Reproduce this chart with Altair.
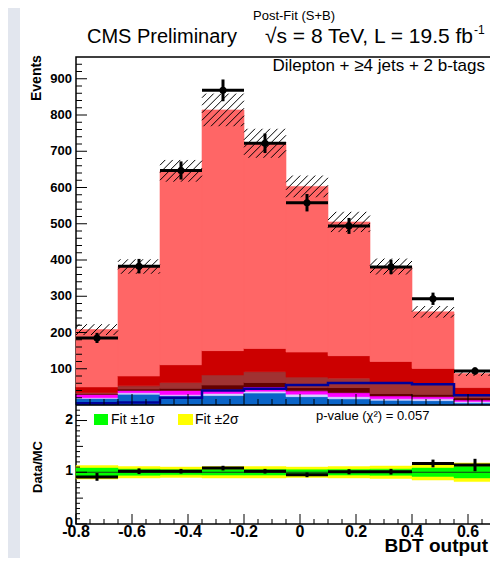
import altair as alt
import pandas as pd
import numpy as np

# ---------------- data ----------------
edges = [-0.8, -0.65, -0.5, -0.35, -0.2, -0.05, 0.1, 0.25, 0.4, 0.55, 0.7]
data_obs = [185, 383, 647, 868, 722, 558, 494, 381, 293, 94]
data_err = [14, 20, 25, 30, 27, 24, 22, 20, 17, 10]

comp_names = ["V+jets", "ttV", "single t", "tt+bb", "tt+b", "tt+cc", "tt+lf"]  # bottom -> top
comp_colors = ["#0a64c8", "#d2d2ff", "#ff00ff", "#640000", "#a03232", "#cc0000", "#ff6666"]
vjets = [18, 30, 25, 26, 33, 23, 17, 13, 12, 6]
ttv = [2, 4, 3, 6, 5, 7, 6, 4, 5, 4]
stop = [9, 6, 12, 11, 12, 9, 11, 8, 6, 4]
ttbb = [2, 4, 6, 12, 12, 9, 14, 7, 7, 6]
ttb = [3, 9, 16, 28, 30, 29, 26, 28, 30, 7]
ttcc = [16, 27, 49, 67, 64, 69, 62, 60, 41, 21]
ttlf = [158, 302, 535, 664, 566, 457, 369, 262, 156, 39]
components = [vjets, ttv, stop, ttbb, ttb, ttcc, ttlf]
mc_err = [15, 20, 30, 45, 40, 30, 28, 22, 16, 7]
tth = [5, 7, 20, 40, 45, 55, 61, 61, 57, 27]

ratio = [0.91, 1.02, 1.02, 1.08, 1.02, 0.95, 1.01, 1.01, 1.17, 1.14]
ratio_err = [0.075, 0.055, 0.045, 0.045, 0.045, 0.045, 0.05, 0.055, 0.075, 0.12]
band1 = [0.08, 0.06, 0.05, 0.055, 0.055, 0.05, 0.055, 0.06, 0.08, 0.11]
band2 = [0.13, 0.11, 0.10, 0.11, 0.11, 0.10, 0.11, 0.12, 0.15, 0.18]

x_ticks = [-0.8, -0.6, -0.4, -0.2, 0.0, 0.2, 0.4, 0.6]
x_labels = ["-0.8", "-0.6", "-0.4", "-0.2", "0", "0.2", "0.4", "0.6"]
y_ticks_main = [100, 200, 300, 400, 500, 600, 700, 800, 900]
y_ticks_ratio = [0, 1, 2]

# ---------------- geometry ----------------
W, H1, H2 = 420, 348, 119
H = H1 + H2
XMIN, XMAX = -0.8, 0.7
YMAX = 960
RMAX = 2.3
FONT = "Liberation Sans"

lo = edges[:-1]
hi = edges[1:]
ctr = [(a + b) / 2 for a, b in zip(lo, hi)]

xs = alt.Scale(domain=[XMIN, XMAX], nice=False, zero=False)
ys = alt.Scale(domain=[0, YMAX], nice=False, range=[H1, 0])
rs = alt.Scale(domain=[0, RMAX], nice=False, range=[H, H1])


def X(f):
    return alt.X(f, scale=xs, axis=None)


def MY(f):
    return alt.Y(f, scale=ys, axis=None)


def RY(f):
    return alt.Y(f, scale=rs, axis=None)


one = pd.DataFrame({"a": [0]})


def txt(s, x, y, size, align="left", weight="normal", angle=0, baseline="middle"):
    return alt.Chart(one).mark_text(text=s, font=FONT, fontSize=size, align=align,
                                    baseline=baseline, fontWeight=weight, angle=angle,
                                    color="black").encode(x=alt.value(x), y=alt.value(y))


# ---------------- main panel ----------------
rows = []
for i in range(10):
    base = 0
    for k, (name, vals) in enumerate(zip(comp_names, components)):
        rows.append(dict(lo=lo[i], hi=hi[i], y0=base, y1=base + vals[i], comp=name))
        base += vals[i]
stack_df = pd.DataFrame(rows)
mc_total = [sum(c[i] for c in components) for i in range(10)]

strip = alt.Chart(one).mark_rect(color="#e2e6ee").encode(
    x=alt.value(-68), x2=alt.value(-56), y=alt.value(-49), y2=alt.value(501))

bars = alt.Chart(stack_df).mark_rect(strokeWidth=0.6).encode(
    x=X("lo:Q"), x2="hi:Q", y=MY("y0:Q"), y2="y1:Q",
    color=alt.Color("comp:N", scale=alt.Scale(domain=comp_names, range=comp_colors), legend=None),
    stroke=alt.Stroke("comp:N", scale=alt.Scale(domain=comp_names, range=comp_colors), legend=None),
)

tth_df = pd.DataFrame({"x": lo + [edges[-1]], "y": tth + [tth[-1]]})
tth_line = alt.Chart(tth_df).mark_line(interpolate="step-after", color="#000099", strokeWidth=2.5).encode(
    x=X("x:Q"), y=MY("y:Q"))

# hatched uncertainty band
PX = W / (XMAX - XMIN)
PY = H1 / YMAX
sp = 7.5
hrows = []
for i in range(10):
    X0 = (lo[i] - XMIN) * PX
    X1 = (hi[i] - XMIN) * PX
    Ylo = (mc_total[i] - mc_err[i]) * PY
    Hh = 2 * mc_err[i] * PY
    k0 = int(np.floor((X0 - Hh) / sp))
    k1 = int(np.ceil(X1 / sp))
    for k in range(k0, k1 + 1):
        s = k * sp
        xa = max(X0, s)
        xb = min(X1, s + Hh)
        if xb - xa < 1.0:
            continue
        hrows.append(dict(x=xa / PX + XMIN, x2=xb / PX + XMIN,
                          y=(Ylo + (xa - s)) / PY, y2=(Ylo + (xb - s)) / PY))
hatch_df = pd.DataFrame(hrows)
hatch = alt.Chart(hatch_df).mark_rule(color="black", strokeWidth=1).encode(
    x=X("x:Q"), x2="x2:Q", y=MY("y:Q"), y2="y2:Q")

ddf = pd.DataFrame({"lo": lo, "hi": hi, "c": ctr, "v": data_obs,
                    "vl": [v - e for v, e in zip(data_obs, data_err)],
                    "vh": [v + e for v, e in zip(data_obs, data_err)]})
d_h = alt.Chart(ddf).mark_rule(color="black", strokeWidth=3).encode(
    x=X("lo:Q"), x2="hi:Q", y=MY("v:Q"))
d_v = alt.Chart(ddf).mark_rule(color="black", strokeWidth=3).encode(
    x=X("c:Q"), y=MY("vl:Q"), y2="vh:Q")
d_p = alt.Chart(ddf).mark_circle(color="black", size=50, opacity=1).encode(
    x=X("c:Q"), y=MY("v:Q"))

# tick marks (inside, ROOT style)
maj_y = pd.DataFrame({"v": y_ticks_main, "t": [str(v) for v in y_ticks_main]})
min_y = pd.DataFrame({"v": [v for v in range(20, 960, 20) if v % 100 != 0]})
maj_x = pd.DataFrame({"v": x_ticks, "t": x_labels})
min_x = pd.DataFrame({"v": [round(-0.8 + 0.05 * k, 2) for k in range(31)
                            if round(-0.8 + 0.05 * k, 2) not in x_ticks]})

t_my1 = alt.Chart(maj_y).mark_rule(color="black", strokeWidth=1).encode(
    x=alt.value(0), x2=alt.value(11), y=MY("v:Q"))
t_my2 = alt.Chart(min_y).mark_rule(color="black", strokeWidth=1).encode(
    x=alt.value(0), x2=alt.value(6), y=MY("v:Q"))
t_mx1 = alt.Chart(maj_x).mark_rule(color="black", strokeWidth=1).encode(
    x=X("v:Q"), y=alt.value(H1), y2=alt.value(H1 - 11))
t_mx2 = alt.Chart(min_x).mark_rule(color="black", strokeWidth=1).encode(
    x=X("v:Q"), y=alt.value(H1), y2=alt.value(H1 - 6))
lab_my = alt.Chart(maj_y).mark_text(font=FONT, fontSize=13, fontWeight="bold", align="right",
                                    baseline="middle", color="black").encode(
    x=alt.value(-4), y=MY("v:Q"), text="t:N")

texts_main = [
    txt("Post-Fit (S+B)", 218, -41, 13, align="center"),
    txt("CMS Preliminary", 11, -20, 20),
    txt("\u221as = 8 TeV, L = 19.5 fb", 397, -20, 21, align="right"),
    txt("-1", 398, -27, 12),
    txt("Dilepton + \u22654 jets + 2 b-tags", 409, 9, 17, align="right"),
    txt("Events", -39, 44, 14, align="left", weight="bold", angle=270),
]

# ---------------- ratio panel ----------------
rdf = pd.DataFrame({"lo": lo, "hi": hi, "c": ctr, "r": ratio,
                    "rl": [r - e for r, e in zip(ratio, ratio_err)],
                    "rh": [r + e for r, e in zip(ratio, ratio_err)],
                    "b1l": [1 - b for b in band1], "b1h": [1 + b for b in band1],
                    "b2l": [1 - b for b in band2], "b2h": [1 + b for b in band2]})

yel = alt.Chart(rdf).mark_rect(color="#ffff00", strokeWidth=0.5, stroke="#ffff00").encode(
    x=X("lo:Q"), x2="hi:Q", y=RY("b2l:Q"), y2="b2h:Q")
grn = alt.Chart(rdf).mark_rect(color="#00ff00", strokeWidth=0.5, stroke="#00ff00").encode(
    x=X("lo:Q"), x2="hi:Q", y=RY("b1l:Q"), y2="b1h:Q")
unity = alt.Chart(pd.DataFrame({"v": [1]})).mark_rule(color="#1a3a1a", strokeWidth=1).encode(
    y=RY("v:Q"), x=alt.value(0), x2=alt.value(W))
r_h = alt.Chart(rdf).mark_rule(color="black", strokeWidth=3).encode(
    x=X("lo:Q"), x2="hi:Q", y=RY("r:Q"))
r_v = alt.Chart(rdf).mark_rule(color="black", strokeWidth=3).encode(
    x=X("c:Q"), y=RY("rl:Q"), y2="rh:Q")

rmaj = pd.DataFrame({"v": y_ticks_ratio, "t": [str(v) for v in y_ticks_ratio]})
rmid = pd.DataFrame({"v": [0.5, 1.5]})
rmin = pd.DataFrame({"v": [round(0.1 * k, 1) for k in range(1, 23) if k % 5 != 0]})
t_ry1 = alt.Chart(rmaj).mark_rule(color="black", strokeWidth=1).encode(
    x=alt.value(0), x2=alt.value(11), y=RY("v:Q"))
t_ry2 = alt.Chart(rmid).mark_rule(color="black", strokeWidth=1).encode(
    x=alt.value(0), x2=alt.value(7), y=RY("v:Q"))
t_ry3 = alt.Chart(rmin).mark_rule(color="black", strokeWidth=1).encode(
    x=alt.value(0), x2=alt.value(4), y=RY("v:Q"))
t_rx1 = alt.Chart(maj_x).mark_rule(color="black", strokeWidth=1).encode(
    x=X("v:Q"), y=alt.value(H), y2=alt.value(H - 10))
t_rx2 = alt.Chart(min_x).mark_rule(color="black", strokeWidth=1).encode(
    x=X("v:Q"), y=alt.value(H), y2=alt.value(H - 5))
lab_ry = alt.Chart(rmaj).mark_text(font=FONT, fontSize=14, fontWeight="bold", align="right",
                                   baseline="middle", color="black", dy=-1).encode(
    x=alt.value(-3), y=RY("v:Q"), text="t:N")
lab_rx = alt.Chart(maj_x).mark_text(font=FONT, fontSize=16, fontWeight="bold", align="center",
                                    baseline="middle", color="black").encode(
    x=X("v:Q"), y=alt.value(H + 8), text="t:N")

# panel separator
sep = alt.Chart(one).mark_rule(color="black", strokeWidth=1.5).encode(
    x=alt.value(0), x2=alt.value(W), y=alt.value(H1))

leg_g = alt.Chart(one).mark_rect(color="#00ff00").encode(
    x=alt.value(18), x2=alt.value(32), y=alt.value(H1 + 9), y2=alt.value(H1 + 20))
leg_y = alt.Chart(one).mark_rect(color="#ffff00").encode(
    x=alt.value(102), x2=alt.value(117), y=alt.value(H1 + 9), y2=alt.value(H1 + 20))

texts_ratio = [
    txt("Fit \u00b11\u03c3", 35, H1 + 15, 14),
    txt("Fit \u00b12\u03c3", 119, H1 + 15, 14),
    txt("p-value (\u03c7\u00b2) = 0.057", 240, H1 + 11, 13),
    txt("Data/MC", -38, H1 + 62, 13, align="center", weight="bold", angle=270),
    txt("BDT output", 412, H1 + 141, 19, align="right", weight="bold"),
]

chart = alt.layer(
    strip, bars, tth_line, hatch, d_h, d_v, d_p,
    t_my1, t_my2, t_mx1, t_mx2, lab_my, *texts_main,
    yel, grn, unity, r_h, r_v, t_ry1, t_ry2, t_ry3, t_rx1, t_rx2, lab_ry, lab_rx,
    sep, leg_g, leg_y, *texts_ratio,
).resolve_scale(y="independent").properties(
    width=W, height=H,
    autosize=alt.AutoSizeParams(type="none"),
    padding={"left": 68, "top": 49, "right": -6, "bottom": 34},
    background="white",
).configure_view(stroke="black", strokeWidth=1.5)

chart.save("out.html", embed_options={"renderer": "svg", "actions": False})
